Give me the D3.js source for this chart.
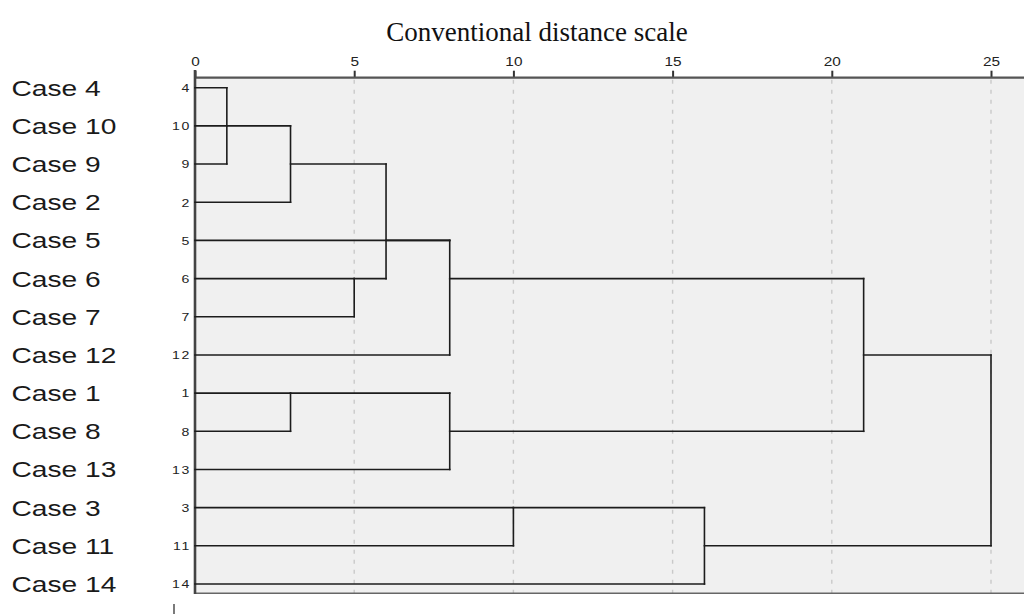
<!DOCTYPE html>
<html>
<head>
<meta charset="utf-8">
<script src="https://cdn.jsdelivr.net/npm/d3@7"></script>
<style>
  html, body { margin: 0; padding: 0; background: #ffffff; }
  svg { display: block; }
</style>
</head>
<body>
<svg id="chart" width="1024" height="614"></svg>
<script>
// ---------------- data ----------------
const chartTitle = "Conventional distance scale";
const cases = ["4", "10", "9", "2", "5", "6", "7", "12", "1", "8", "13", "3", "11", "14"];
const caseLabels = ["Case 4", "Case 10", "Case 9", "Case 2", "Case 5", "Case 6", "Case 7",
                    "Case 12", "Case 1", "Case 8", "Case 13", "Case 3", "Case 11", "Case 14"];
const axisTicks = [0, 5, 10, 15, 20, 25];
// agglomeration (rescaled distance); "row" = case row that carries the joined branch
const mergeIds       = ["A", "B", "C", "D", "E", "F", "G", "H", "I", "J", "K"];
const mergeChildren  = [["4", "10", "9"], ["A", "2"], ["6", "7"], ["B", "C"], ["D", "5", "12"],
                        ["1", "8"], ["F", "13"], ["E", "G"], ["3", "11"], ["I", "14"], ["H", "J"]];
const mergeDistances = [1, 3, 5, 6, 8, 3, 8, 21, 10, 16, 25];
const mergeRows      = ["10", "9", "6", "5", "6", "1", "8", "12", "3", "11", null];

// ---------------- layout ----------------
const W = 1024, H = 614;
const plotLeft = 195, plotTop = 77.7, plotBottom = 593.3;
const stretch = 1.28;

const svg = d3.select("#chart");

const x = d3.scaleLinear().domain([0, 25]).range([plotLeft, 991]);
const y = d3.scalePoint().domain(cases).range([87.7, 584]);

// title
svg.append("text")
  .attr("x", 537).attr("y", 41)
  .attr("text-anchor", "middle")
  .style("font-family", "'Liberation Serif', 'Times New Roman', serif")
  .style("font-size", "27px")
  .style("fill", "#111")
  .text(chartTitle);

// plot background
svg.append("rect")
  .attr("x", plotLeft).attr("y", plotTop)
  .attr("width", W - plotLeft + 5).attr("height", plotBottom - plotTop)
  .attr("fill", "#f0f0f0");

// gridlines
svg.append("g").selectAll("line")
  .data(axisTicks.filter(d => d > 0))
  .join("line")
  .attr("x1", d => x(d)).attr("x2", d => x(d))
  .attr("y1", plotTop + 2).attr("y2", plotBottom)
  .attr("stroke", "#c9c9c9")
  .attr("stroke-width", 1.4)
  .attr("stroke-dasharray", "4,6");

// top axis
const topAxis = d3.axisTop(x).tickValues(axisTicks).tickSize(7).tickFormat(d3.format("d"));
const gTop = svg.append("g").attr("transform", `translate(0,${plotTop})`).call(topAxis);
gTop.select(".domain").remove();
gTop.selectAll(".tick line").attr("stroke", "#333").attr("stroke-width", 2);
gTop.selectAll(".tick text").remove();
gTop.selectAll(".tick").append("g")
  .attr("transform", `translate(0,-11.5) scale(${stretch},1)`)
  .append("text")
  .attr("text-anchor", "middle")
  .style("font-family", "'Liberation Sans', Arial, sans-serif")
  .style("font-size", "12px")
  .style("fill", "#222")
  .text(d => d);
svg.append("line")
  .attr("x1", plotLeft).attr("x2", W)
  .attr("y1", plotTop).attr("y2", plotTop)
  .attr("stroke", "#555").attr("stroke-width", 2.2);

// bottom border
svg.append("line")
  .attr("x1", plotLeft).attr("x2", W)
  .attr("y1", plotBottom).attr("y2", plotBottom)
  .attr("stroke", "#666").attr("stroke-width", 1.6);

// left axis with case numbers
const leftAxis = d3.axisLeft(y).tickSize(0).tickPadding(4);
const gLeft = svg.append("g").attr("transform", `translate(${plotLeft},0)`).call(leftAxis);
gLeft.select(".domain").remove();
gLeft.selectAll(".tick text").remove();
gLeft.selectAll(".tick").append("g")
  .attr("transform", `translate(-4,0) scale(${stretch},1)`)
  .append("text")
  .attr("text-anchor", "end")
  .attr("dy", "0.35em")
  .style("font-family", "'Liberation Sans', Arial, sans-serif")
  .style("font-size", "11px")
  .style("letter-spacing", "1.3px")
  .style("fill", "#222")
  .text(d => d);
svg.append("line")
  .attr("x1", plotLeft).attr("x2", plotLeft)
  .attr("y1", 70).attr("y2", plotBottom + 0.8)
  .attr("stroke", "#444").attr("stroke-width", 2.6);

// case labels
svg.append("g").selectAll("g")
  .data(cases)
  .join("g")
  .attr("transform", (d) => `translate(11.5,${y(d)}) scale(${stretch},1)`)
  .append("text")
  .attr("dy", "0.36em")
  .style("font-family", "'Liberation Sans', Arial, sans-serif")
  .style("font-size", "22px")
  .style("fill", "#1a1a1a")
  .text((d, i) => caseLabels[i]);

// dendrogram
const nodes = new Map();
cases.forEach(c => nodes.set(c, { dist: 0, row: c }));
const segs = [];
mergeIds.forEach((id, i) => {
  const dist = mergeDistances[i];
  const kids = mergeChildren[i].map(k => nodes.get(k));
  kids.forEach(k => segs.push({ x1: x(k.dist), x2: x(dist), y1: y(k.row), y2: y(k.row) }));
  const ys = kids.map(k => y(k.row));
  segs.push({ x1: x(dist), x2: x(dist), y1: d3.min(ys), y2: d3.max(ys) });
  nodes.set(id, { dist: dist, row: mergeRows[i] });
});
svg.append("g").selectAll("line")
  .data(segs)
  .join("line")
  .attr("x1", d => d.x1).attr("x2", d => d.x2)
  .attr("y1", d => d.y1).attr("y2", d => d.y2)
  .attr("stroke", "#1c1c1c")
  .attr("stroke-width", 1.6)
  .attr("stroke-linecap", "square");

// small stray mark under the case numbers
svg.append("line")
  .attr("x1", 174).attr("x2", 174)
  .attr("y1", 604).attr("y2", 614)
  .attr("stroke", "#333").attr("stroke-width", 1.3);
</script>
</body>
</html>
